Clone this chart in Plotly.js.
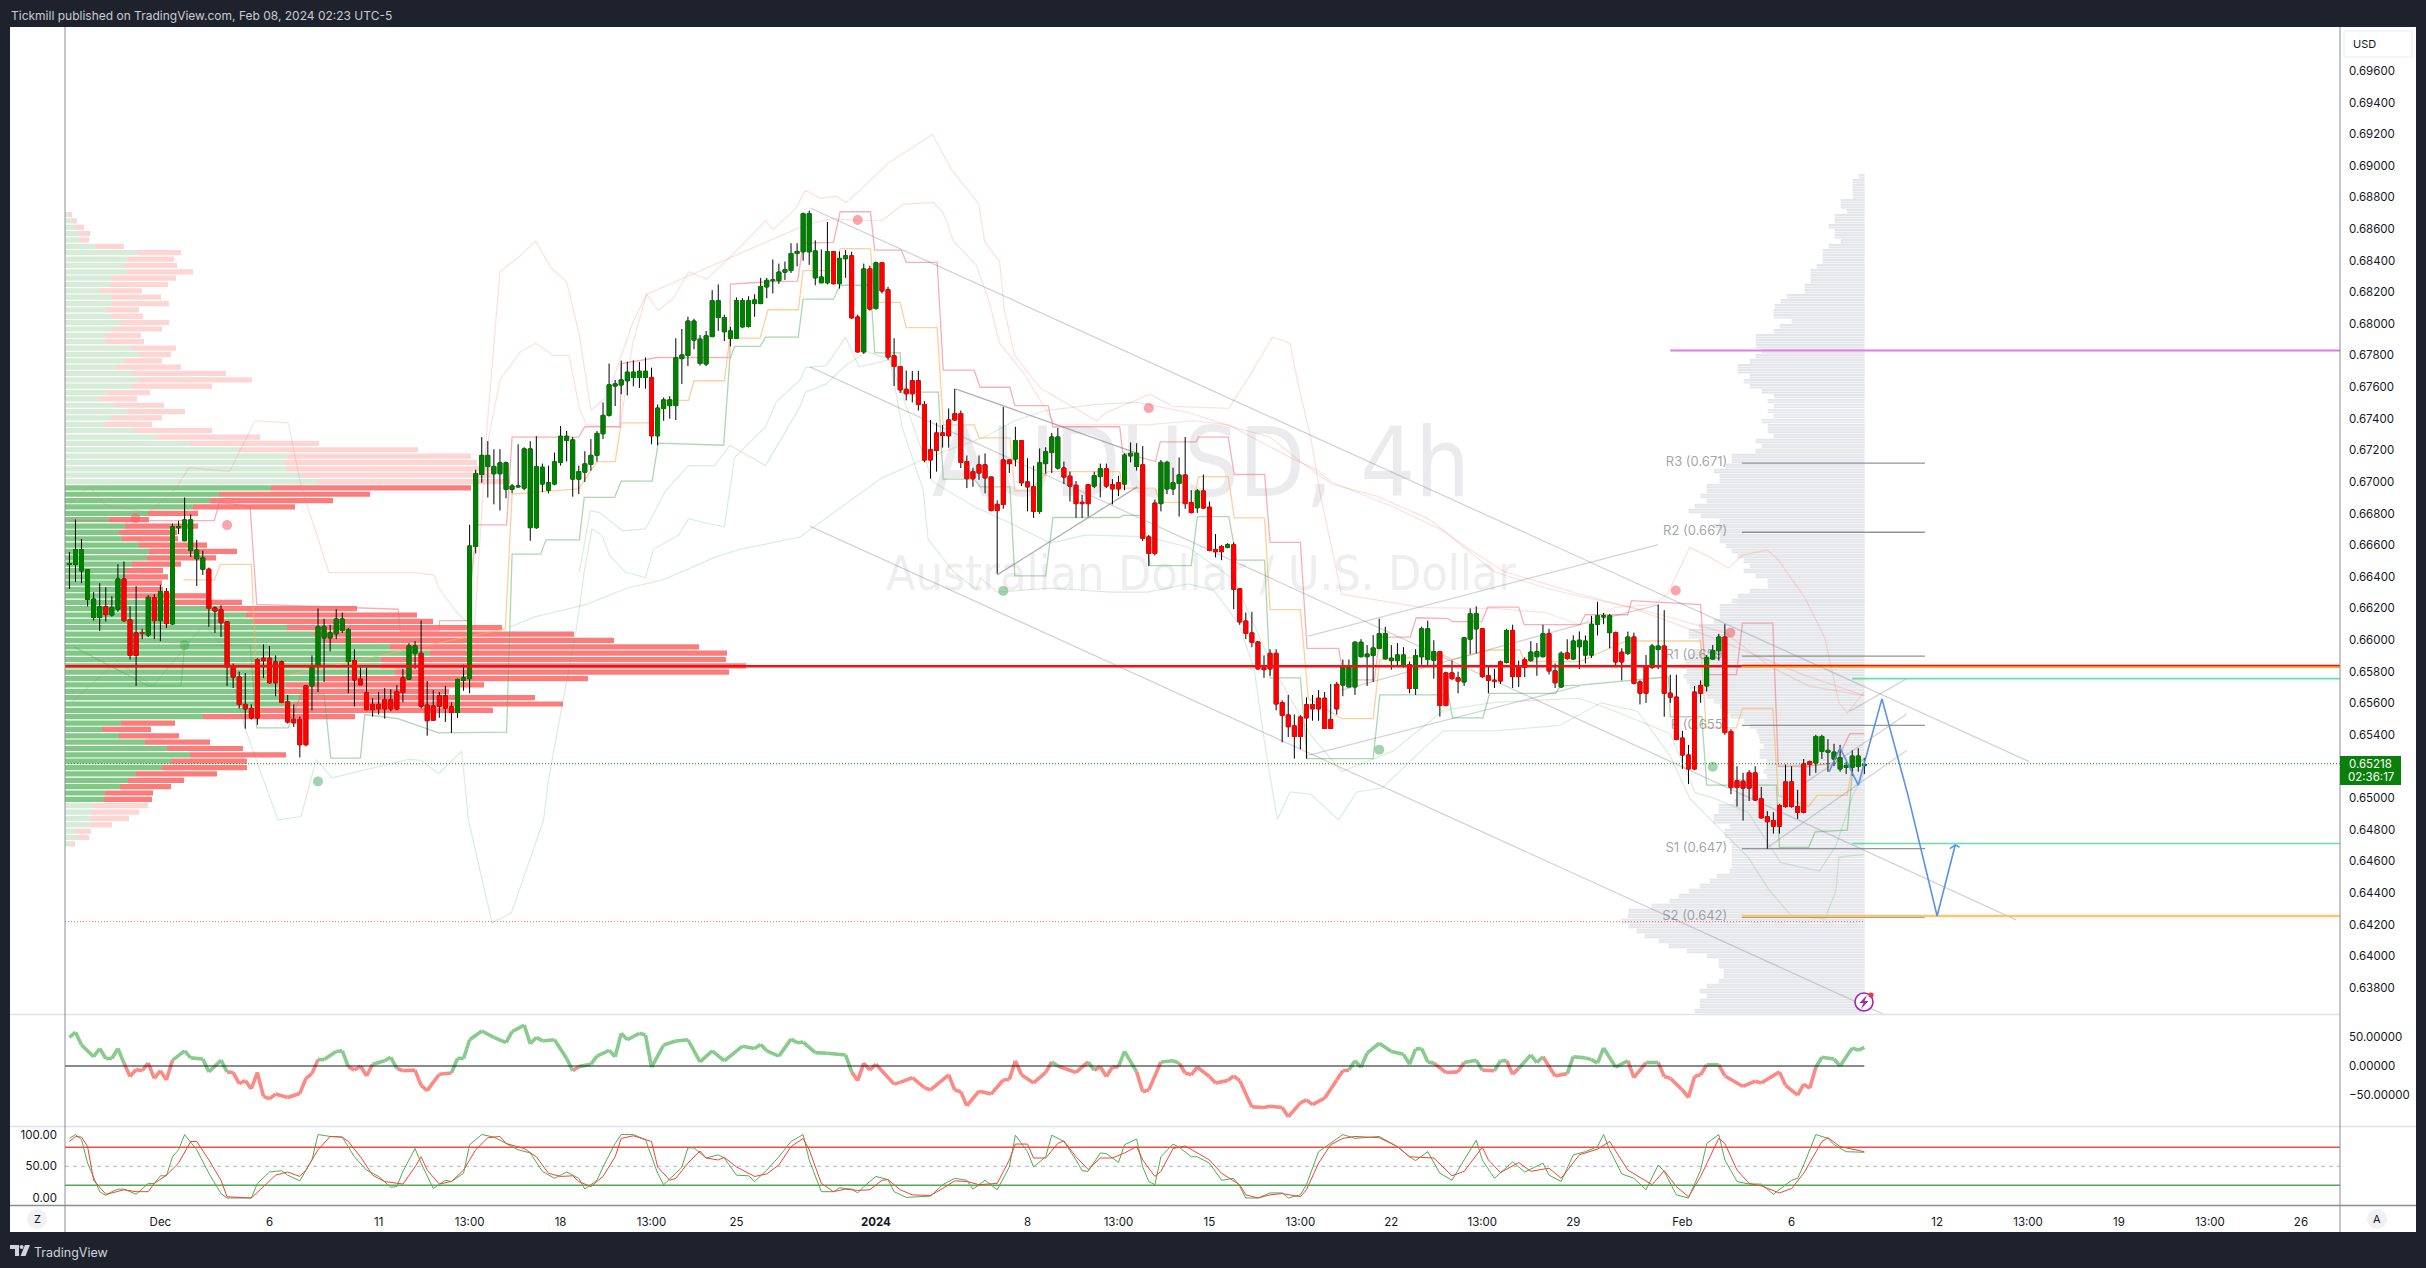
<!DOCTYPE html>
<html><head><meta charset="utf-8">
<script src="https://cdn.plot.ly/plotly-3.0.1.min.js"></script>
<style>html,body{margin:0;padding:0;background:#1e222d}#c{width:2426px;height:1268px}</style>
</head><body><div id="c"></div>
<script>
// OHLC, price x 100000
const open_=[66479,66479,66437,66257,66143,66143,66210,66159,66195,66386,
66128,66045,66048,66032,66267,66123,66306,66102,66711,66628,
66566,66515,66448,66448,66203,66192,66115,65831,65766,65593,
65568,65875,65885,65885,65862,65862,65609,65498,65498,65710,
65710,65834,66014,66014,66040,66061,65864,65870,65753,65666,
65593,65593,65622,65622,65673,65761,65753,65916,65916,65588,
65583,65648,65648,65578,65542,65746,65756,66592,67047,67098,
67052,67052,66954,66954,66969,66961,66711,66711,66987,66948,
66987,67124,67263,67018,67018,67062,67111,67168,67305,67421,
67607,67614,67640,67661,67661,67661,67661,67292,67465,67483,
67483,67780,67800,67898,67749,67746,67919,68040,67950,67909,
67909,67981,67983,68128,68128,68234,68273,68273,68327,68337,
68445,68456,68456,68291,68260,68260,68456,68254,68412,68430,
68043,67823,68347,68097,68386,68216,67798,67730,67586,67640,
67640,67490,67204,67310,67310,67392,67431,67431,67129,67065,
67108,67108,67031,66858,67139,67139,67145,67261,67000,66969,
66814,67116,67186,67088,67088,67036,66979,66871,66982,66974,
67034,67083,66982,66995,66987,67165,67098,67108,66652,66866,
66863,66956,66956,66990,67044,66868,66837,66943,66840,66572,
66592,66587,66603,66324,66120,66045,65988,65826,65916,65916,
65604,65526,65457,65513,65591,65591,65632,65632,65498,65720,
65715,65704,65704,65895,65895,65903,65947,65882,65870,65870,
65834,65844,65694,65895,65877,65872,65926,65792,65792,65761,
65735,66006,66071,66071,65774,65746,65862,65859,66061,65839,
65875,65870,65895,65895,66040,65805,65704,65918,65880,65958,
65905,65905,66100,66146,66047,66047,65923,65915,66019,65735,
65834,65827,65940,65962,65664,65639,65380,65273,65671,65713,
65710,65880,65933,66019,65422,65110,65107,65160,65160,64996,
64883,64858,64954,65103,65103,64947,65217,65231,65223,65295,
65291,65248,65185,65195,65195,65202,65206];
const close_=[66484,66572,66572,66445,66259,66210,66161,66205,66386,66123,
65903,65903,66043,66270,66123,66306,66104,66716,66716,66760,
66760,66569,66520,66200,66184,66110,65831,65766,65593,65565,
65508,65508,65870,65730,65730,65606,65482,65477,65338,65338,
65834,66084,66084,66045,66133,66133,66066,65748,65717,65560,
65560,65565,65565,65565,65565,65668,65963,65963,65581,65490,
65493,65581,65570,65542,65751,65761,66595,67052,67168,67168,
67098,67121,67121,66974,66974,67209,67209,67096,67093,66995,
67127,67289,67289,67266,67065,67114,67168,67307,67421,67614,
67620,67645,67694,67694,67700,67700,67292,67467,67519,67519,
67785,67803,68017,68017,67903,67924,68146,68146,68040,67955,
68146,68146,68146,68151,68236,68275,68278,68327,68342,68445,
68458,68696,68696,68461,68296,68456,68254,68414,68430,68038,
67823,68347,68094,68386,68208,67790,67730,67583,67558,67558,
67490,67139,67139,67199,67294,67292,67392,67124,67021,67021,
67057,67026,66819,66819,66858,67116,67261,66995,66969,66814,
67121,67191,67284,67284,67031,66974,66863,66863,66863,67039,
67083,66974,66956,66956,67170,67181,67181,66644,66548,66548,
67124,67124,66995,67044,66863,66806,66943,66835,66567,66559,
66559,66603,66321,66115,66043,65986,65818,65813,65818,65596,
65524,65452,65390,65390,65508,65565,65565,65441,65441,65565,
65834,65834,65986,65986,65911,65950,66040,66040,65885,65906,
65906,65694,65901,66071,66071,65926,65586,65586,65756,65741,
66014,66166,66166,65769,65746,65741,65741,66061,65769,65769,
65828,65924,65926,66040,65805,65730,65916,65883,65994,65999,
65994,66100,66153,66153,66153,65862,65862,66019,65727,65664,
65664,65962,65962,65664,65639,65372,65273,65185,65185,65664,
65887,65933,66019,65415,65067,65067,65064,65064,64989,64876,
64851,64823,64823,64947,64947,64911,64911,65213,65390,65390,
65302,65291,65255,65206,65266,65266,65213];
const high_=[66556,66763,66639,66445,66303,66360,66334,66277,66479,66497,
66213,66342,66071,66283,66290,66350,66329,66737,66755,66902,
66794,66634,66566,66458,66213,66221,66117,65852,65800,65792,
65593,65885,65973,65962,65903,65870,65653,65593,65516,65715,
65903,66200,66135,66097,66195,66174,66076,65942,65826,65826,
65632,65671,65697,65689,65715,65818,65981,65993,66123,65741,
65683,65671,65710,65606,65756,65844,66729,67077,67284,67258,
67207,67207,67129,66987,67238,67219,67258,67289,67116,67103,
67186,67354,67323,67284,67103,67194,67271,67323,67503,67749,
67645,67767,67761,67769,67759,67787,67723,67490,67534,67542,
67909,67968,68045,68032,67929,67955,68213,68249,68058,67981,
68167,68162,68174,68187,68291,68291,68407,68381,68394,68510,
68510,68704,68716,68528,68471,68644,68458,68458,68466,68456,
68058,68381,68368,68394,68386,68234,67909,67733,67705,67702,
67702,67511,67392,67374,67361,67465,67589,67452,67168,67090,
67168,67181,67034,66884,67475,67142,67349,67263,67150,67103,
67212,67219,67310,67341,67129,67065,67005,66917,66987,67065,
67116,67116,67018,67039,67181,67250,67245,67227,66665,66889,
67139,67134,67090,67155,67284,66948,66954,67047,66876,66670,
66600,66613,66618,66329,66174,66179,65993,65903,65942,65942,
65619,65653,65529,65524,65637,65653,65684,65671,65722,65735,
65877,65877,65993,66006,65968,66032,66135,66084,65968,65981,
65955,65864,65942,66084,66123,65999,65929,65800,65870,65800,
66019,66200,66213,66076,65839,65818,65870,66071,66097,65870,
65890,65993,65981,66097,66071,65852,65929,66005,66030,66054,
66029,66153,66242,66171,66164,66054,65948,66054,66047,65745,
65905,65976,66224,66189,65781,65781,65426,65337,65710,65745,
65905,65969,66040,66100,65436,65202,65160,65177,65202,65071,
64918,64911,64964,65213,65202,65053,65248,65238,65401,65401,
65373,65344,65337,65231,65302,65316,65255];
const low_=[66324,66368,66360,66213,66123,66058,66117,66148,66179,66115,
65877,65710,66006,66019,66006,65993,66076,66097,66670,66626,
66525,66342,66412,66084,66045,66019,65710,65697,65568,65439,
65498,65464,65761,65722,65645,65601,65472,65451,65258,65328,
65555,65671,65735,65929,66006,66045,65663,65581,65715,65555,
65516,65529,65503,65550,65555,65606,65748,65818,65568,65395,
65490,65508,65482,65413,65508,65679,65663,66548,66995,66902,
66858,66819,66897,66928,66961,66948,66628,66703,66936,66928,
66979,67103,67129,66907,66923,67000,67072,67129,67271,67413,
67480,67555,67547,67604,67594,67589,67238,67232,67387,67400,
67392,67620,67733,67839,67736,67733,67916,67955,67891,67857,
67903,67976,67976,68045,68125,68162,68192,68252,68278,68322,
68363,68399,68373,68244,68257,68249,68249,68223,68291,68032,
67818,67810,68084,68089,68192,67774,67607,67563,67516,67503,
67452,67124,67021,67065,67217,67217,67387,67088,66961,66969,
67013,66928,66814,66419,66830,67057,67098,66974,66814,66773,
66799,67052,67057,67078,66987,66876,66773,66773,66781,66961,
66902,66961,66858,66910,66948,67124,67072,66626,66468,66535,
66814,66923,66917,66781,66830,66801,66804,66830,66561,66523,
66505,66580,66195,66097,66006,65955,65813,65761,65774,65555,
65353,65387,65250,65309,65250,65490,65490,65439,65439,65529,
65645,65702,65653,65890,65710,65735,65942,65877,65813,65839,
65826,65663,65653,65844,65839,65756,65516,65581,65748,65663,
65710,65911,65916,65761,65663,65697,65722,65852,65697,65704,
65766,65864,65774,65890,65782,65697,65697,65875,65875,65816,
65852,65887,66029,66100,65948,65841,65745,65905,65720,65593,
65603,65816,65816,65515,65603,65365,65185,65089,65177,65603,
65674,65877,65870,65401,65025,64947,64858,64982,64982,64869,
64680,64776,64776,64940,64940,64869,64904,65142,65160,65248,
65167,65202,65167,65153,65142,65167,65153];

// Left volume profile: buy / total volume per row, top row first
const leftBuy=[3,7,9,14,15,30,73,63,59,62,47,45,34,47,47,41,47,56,48,40,40,67,74,60,51,67,74,66,41,33,50,62,46,39,69,91,125,173,222,219,221,237,253,
206,154,145,128,83,44,60,54,57,74,84,82,67,61,60,61,62,62,88,154,181,188,222,249,260,325,365,316,316,330,260,221,213,234,228,196,138,56,37,54,80,102,125,106,97,71,63,55,40,39,
28,26,25,25,10,14,5];
const leftTotal=[7,12,19,25,24,59,116,109,112,128,111,103,77,96,104,74,78,104,97,76,79,111,106,97,116,161,187,147,85,72,99,120,97,87,147,195,254,353,406,412,429,429,445,
406,305,268,230,133,84,133,112,113,142,172,151,116,98,103,97,98,141,177,292,352,368,437,509,549,634,662,661,681,664,523,419,384,470,498,428,290,110,86,114,145,178,221,182,182,152,119,106,88,87,
83,74,64,47,26,24,10];
// Right session profile
const rightUpper=[6,12,12,12,12,24,24,18,30,30,36,30,30,24,36,42,42,42,48,54,54,54,60,60,78,84,90,91,91,73,85,91,109,109,109,103,109,115,127,127,115,121,115,103,91,97,91,97,91,103,97,97,91,109,103,109,133,133,139,151,145,145,158,158,164,158,170,176,164,145,151,145,145,145,139,133,127,121,115,121,109,97,97,115,127,133];
const rightLower=[128,145,145,145,151,166,176,176,166,165,171,175,180,185,178,181,178,175,168,158,151,145,138,135,121,115,108,106,105,101,105,105,98,98,101,98,128,126,126,128,131,146,146,151,151,135,140,140,135,133,133,133,133,133,135,148,155,165,176,186,195,213,236,237,243,236,228,220,206,196,178,158,146,146,141,141,146,158,165,158,165,165,170];

// Step channel
const chanUpper=[[0,66755],[23.9,66755],[24.7,66871],[29.8,66845],[30.9,66226],[54.2,66195],[54.6,66058],[61,66058],[61,66123],[65.6,66123],[67.2,66729],[72.1,66729],[73,67284],[84,67284],[85,67349],[90.8,67349],[91,67749],[97,67787],[108.9,67787],[109,68252],[114.8,68265],[120.1,68270],[121,68510],[126,68515],[127.1,68709],[132.1,68709],[132.8,68466],[137.2,68466],[138,68389],[143.1,68389],[144.1,67707],[149.2,67707],[150.2,67599],[155.1,67599],[155.9,67483],[161.4,67483],[162.2,67349],[173.2,67349],[173.7,67186],[179.1,67129],[179.9,67253],[185.8,67253],[186.2,67284],[191.1,67284],[192.1,67047],[197.1,67047],[198,66618],[203,66618],[204.1,65947],[209.3,65947],[210.2,65748],[215.2,65748],[216.1,66019],[221.1,66019],[222.1,66141],[227.3,66136],[228.1,66117],[232.9,66117],[233.9,66208],[239,66208],[239.9,66097],[249.1,66097],[250,66160],[257,66160],[257.6,66249],[269,66224],[269.8,65781],[274.9,65781],[275.9,66107],[280.9,66107],[281.8,65202],[286.8,65202],[291.3,65224],[293.6,65408],[296,65408]];
const chanMid=[[18.8,66381],[23.9,66381],[24.9,66479],[30,66479],[30.9,65735],[71.9,66071],[73,66923],[84,66956],[87,67129],[90,67129],[91,67374],[97,67374],[97.9,67516],[102.1,67516],[103,67640],[108,67640],[108.9,67909],[113.9,67909],[115.2,68089],[120.2,68089],[121,68337],[126,68337],[127.1,68476],[132.1,68476],[132.8,68136],[137,68136],[138,67976],[143.1,67976],[144.1,67361],[149.2,67361],[150,67279],[155.1,67279],[155.9,66943],[158.4,66943],[161.4,67065],[173.2,67065],[173.7,66961],[179,66961],[179.9,66871],[185.4,66871],[186.2,67034],[191.1,67034],[192.1,66773],[197.1,66773],[198,66192],[203,66192],[204.3,65632],[209.8,65503],[215,65503],[216.1,65877],[226.6,65903],[228.1,65877],[234.2,65937],[239.2,65937],[240,65864],[249.1,65864],[256.7,65994],[269,65994],[269.9,65444],[274.9,65444],[275.9,65568],[280.9,65568],[281.8,65018],[286.8,64947],[288.2,65018],[293.2,65018],[294.1,65231],[296,65248]];
const chanLower=[[0.8,65955],[13,65710],[18.4,65710],[19,65968],[29.8,65968],[30.9,65444],[36.1,65444],[38.2,65658],[42,65658],[43.1,65253],[48,65253],[48.7,65529],[54.2,65503],[60.9,65413],[72.1,65418],[73,66543],[77.7,66543],[78.6,66634],[84.1,66634],[84.9,66902],[89.9,66902],[91,67005],[96.1,67005],[97.1,67245],[107.9,67232],[108.9,67774],[109.7,67857],[113.9,67857],[114.8,67916],[120.2,67916],[121,68156],[126,68156],[127.1,68244],[132.1,68244],[132.8,67816],[137,67816],[137.2,67568],[143.3,67568],[144.1,67018],[149.2,67018],[150.2,66969],[155.1,66969],[155.9,66406],[161,66406],[162.2,66775],[173.2,66775],[173.7,66788],[177.1,66788],[178.2,66471],[185,66471],[186,66781],[191.2,66781],[192.5,66505],[197.1,66505],[198,65761],[203,65761],[204.1,65250],[215,65250],[216.1,65653],[227.4,65653],[228.1,65508],[233.1,65508],[234.2,65663],[245.1,65663],[245.9,65710],[249.1,65715],[263.7,65768],[264,65515],[269.2,65515],[270,65083],[281.5,65083],[282,64688],[286.8,64688],[287.9,64787],[293.2,64798],[294.1,65195],[296,65248]];
// Envelope bands
const bandUpperOuter=[[0,66858],[3.3,66974],[5.8,66858],[13,66806],[17.6,66961],[19.7,67090],[26.4,67065],[30.6,67387],[36.1,67374],[38.2,66974],[42.8,66427],[56.7,66427],[60.1,66412],[60.9,66329],[63.9,66174],[66.8,66071],[68.9,67361],[71,68329],[74.4,68433],[76.9,68523],[79.4,68355],[82,68265],[84.1,67929],[86,67452],[88.7,67542],[92.9,68007],[95.2,68187],[97.1,68084],[99.6,68162],[102.1,68329],[105.1,68283],[108.9,68420],[114.8,68652],[116,68595],[119.8,68729],[121.4,68845],[123.9,68794],[126.5,68807],[128.1,68768],[130.7,68858],[135.2,69021],[142.3,69197],[145.5,68973],[150,68755],[150.9,68523],[153.4,68394],[154.2,68084],[155.9,67800],[160.1,67594],[165.2,67478],[169.4,67387],[171,67439],[178.2,67555],[182,67478],[191.2,67465],[194.6,67671],[198.4,67916],[201.3,67878],[202.6,67620],[204.7,67284],[206.4,66897],[209.8,66290],[215.6,66252],[223.2,66205],[235,66200],[243.4,66174],[249.1,66097],[254.9,66207],[261.3,66224],[263.6,66295],[267.2,66586],[270.4,66526],[273.6,66455],[275.9,66537],[280,66569],[281.8,66508],[286.3,66260],[289.5,66011],[291.8,65603],[293.2,65539],[296,65674]];
const bandUpperInner=[[68,67052],[71,67645],[74.4,67826],[76.9,67878],[79.8,67800],[82.4,67800],[84.1,67465],[85.3,67361],[90.8,67349],[92.9,67878],[95.2,68187],[121.4,68626],[125.6,68665],[130.7,68652],[134,68652],[137.4,68755],[142.4,68768],[144.1,68704],[145.8,68523],[149.6,68368],[151.7,68136],[153.4,67878],[157.2,67697],[160.1,67516],[162.6,67361],[177.8,67361],[185.4,67387],[191.2,67361],[201.3,67155],[205.6,67078],[208.1,67000],[218.2,66845],[226.6,66690],[235,66432],[243.4,66329],[249.1,66277],[259.5,66190],[273,66047],[280.4,65834],[286.8,65710],[296,65649]];
const slowBelow=[[72.7,66084],[76.9,66148],[85.3,66226],[92,66329],[97.9,66381],[106.4,66523],[110.6,66574],[120.5,66652],[125.6,66794],[134,67026],[141.6,67155],[150.9,67284],[155.9,67387],[161,67452],[169.4,67490],[176.1,67503]];
const slowAbove=[[176.1,67503],[184.5,67439],[192.9,67336],[198,67284],[203,67129],[208.1,66987],[215.6,66910],[224,66768],[230.8,66574],[236.7,66432],[243.4,66355],[249.1,66290],[258,66200],[270,66030],[286,65780],[296,65649]];
const bandLowerOuter=[[0.4,65606],[7.8,65865],[13.8,65710],[22.2,66097],[25.6,65942],[29,65439],[31.5,65168],[34.4,64863],[38.2,64884],[40.7,65245],[43.3,65129],[55.9,65245],[58,65240],[60.9,65155],[64.7,65297],[65.8,64863],[69.7,64212],[72.9,64275],[78.2,64863],[79,65116],[81.1,65555],[83.6,66071],[84.9,66432],[86.2,66703],[87.8,66664],[89.1,66535],[91.6,66432],[95,66394],[96.3,66574],[100.5,66664],[102.1,66768],[104.7,66742],[108,66716],[109.7,67155],[114.8,67349],[116.5,67503],[120.5,67645],[121.4,67723],[124.8,67736],[128,67916],[130.2,67728],[135.3,67774],[137.4,67336],[140.8,66949],[141.6,66639],[145.8,66432],[149.6,66316],[150.2,66394],[153,66303],[161.8,66329],[171.9,66303],[177.8,66303],[184.5,66355],[188.7,66316],[192.9,66097],[195.4,65813],[197.1,65348],[199.2,64863],[201.3,65039],[204.7,65026],[209.3,64863],[212.3,65039],[216.5,65064],[223.2,65310],[226.6,65426],[235,65426],[243.4,65452],[245.8,65461],[252.6,65603],[258.6,65550],[264,65266],[267.2,64999],[276.8,64627],[280.4,64414],[284,64255],[289.5,64237],[291.3,64414],[291.8,64627],[296,64645]];
const bandLowerInner=[[84.1,66432],[85.9,66819],[87.4,66806],[91.2,66691],[95,66703],[98.4,66949],[102.1,67103],[106.4,67103],[108.9,67232],[114.8,67103],[120.5,67478],[121.4,67568],[124.8,67620],[128,67736],[131.5,67826],[135.3,67774],[142.4,67000],[149.2,66845],[155,66742],[161.8,66613],[167.7,66665],[177.8,66652],[184.5,66587],[192.1,66381],[198,65864],[204.7,65400],[209.8,65168],[218.2,65297],[226.6,65555],[235,65606],[249.1,65632],[254.9,65550],[264,65408],[268.1,65035],[271.3,64999],[276.8,64911],[282.2,64592],[288.6,64539],[291.3,64698],[294.1,65018],[296,65160]];
// Trend drawings [[i,p],[i,p]]
const trendLines=[
 [[122.1,68734],[323.2,65231]],[[122.1,67728],[321,64230]],[[122.1,66721],[299.1,63634]],
 [[204.3,66025],[262,66604]],[[209.8,65684],[249.1,66097],[262.2,66224]],[[204.3,65271],[249.1,65710]],
 [[280,64688],[303,65302]],[[285.9,65089],[303,65532]],[[293.6,65550],[303,65756]]];
const triangleLines=[[[146.1,67589],[176.1,67181]],[[153,66412],[176.1,66969]]];
const forecastPath=[[290.2,65167],[292,65319],[295,65082],[298.9,65628],[303.2,65018],[308,64255],[311,64705],[310.1,64681],[311,64705],[311.7,64690]];
const pivotDotsHigh=[[10.9,66770],[26,66727],[130,68657],[178,67467],[264.9,66313],[273.9,66047]];
const pivotDotsLow=[[19,65968],[41,65106],[154,66311],[216,65307],[271,65199]];
const pivotNames=["R3 (0.671)","R2 (0.667)","R1 (0.659)","P (0.655)","S1 (0.647)","S2 (0.642)"];
const pivotLevels=[67119,66682,65898,65461,64681,64247];
// CCI
const cciI=[0,1,2,4,5,6,7,8,9,10,11,12,13,14,15,16,17,19,20,22,23,25,26,27,28,29,30,31,32,33,34,36,38,39,40,41,42,44,45,46,47,48,49,50,52,53,54,55,57,58,59,61,63,64,65,66,68,70,72,73,75,76,77,78,80,82,83,84,86,87,89,90,91,92,94,95,96,98,100,102,104,106,108,111,113,114,115,117,119,120,121,123,125,128,129,130,131,132,133,136,137,139,141,142,145,146,147,148,150,152,154,155,156,157,159,161,162,163,166,168,169,170,171,172,173,174,176,177,178,180,182,183,184,185,186,188,189,191,192,193,195,197,198,200,201,203,204,205,207,209,210,211,212,213,214,216,218,220,221,222,223,224,225,227,229,230,232,233,235,236,237,238,239,241,242,243,245,247,248,250,251,252,253,255,257,258,260,262,263,264,266,267,268,269,270,272,273,276,278,279,282,283,285,286,287,288,289,291,292,294,295,296];
const cciV=[49,58,36,16,30,13,13,30,5,-18,-6,-8,5,-21,-8,-24,10,26,14,12,-10,10,-10,-11,-30,-25,-39,-11,-52,-56,-48,-54,-47,-21,-13,11,11,25,26,-1,-7,0,-17,3,9,15,-4,-8,-7,-33,-42,-14,-12,13,13,45,60,49,40,59,70,38,49,43,45,13,-8,-1,3,17,27,16,56,45,56,53,-2,36,43,45,7,26,9,34,30,37,26,17,46,40,41,23,22,19,-10,-25,5,-7,3,-31,-28,-20,-37,-41,-15,-41,-44,-68,-43,-48,-24,-23,9,-15,-29,-11,7,0,-11,7,-7,-1,-18,-2,-1,25,-10,-44,-41,7,9,5,-12,-15,-2,-18,-29,-25,-17,-25,-70,-71,-69,-71,-87,-63,-58,-66,-55,-24,-8,-7,9,-2,22,39,25,20,3,29,30,7,5,-11,-10,6,10,-7,-8,9,9,-14,-4,19,6,16,-17,-13,16,14,11,5,31,-2,9,-20,6,6,-18,-21,-41,-54,-18,-15,2,2,-17,-35,-26,-29,-10,-33,-50,-31,-38,-2,15,12,0,31,27,32];
// Stochastic
const stochKI=[0,1,2,3,5,6,7,8,9,11,13,14,15,16,17,18,19,21,23,25,26,30,31,33,35,36,38,40,41,43,45,47,49,51,53,54,55,57,58,60,62,63,65,66,68,70,72,74,76,78,80,82,84,85,87,88,90,91,93,95,97,98,100,101,102,103,105,107,108,110,112,113,115,117,119,121,122,124,126,127,129,130,131,133,135,136,138,142,144,146,148,149,151,153,155,156,158,159,161,162,164,166,167,168,170,171,173,174,176,177,178,179,180,182,183,185,186,188,190,192,193,194,196,198,200,201,203,204,206,208,210,212,216,219,221,222,224,226,228,230,232,233,235,238,240,243,244,246,248,250,252,253,254,256,258,260,262,263,265,267,269,270,272,273,275,277,279,281,284,285,286,288,290,291,293,296];
const stochKV=[94,100,92,55,10,4,10,14,14,6,23,23,35,35,65,76,100,76,39,7,0,0,23,41,43,36,27,60,100,97,96,65,44,34,17,18,42,78,55,15,28,26,39,84,100,96,86,76,71,42,31,41,31,14,28,49,86,100,100,92,39,21,39,49,79,79,63,68,63,36,35,26,44,65,89,100,60,10,10,16,14,8,18,34,29,10,1,3,21,31,28,14,28,13,49,99,73,49,65,99,89,60,43,42,71,70,56,84,93,49,26,21,65,85,80,65,65,55,28,31,18,0,0,8,8,0,5,21,73,86,100,94,97,81,65,59,73,39,28,60,91,60,31,57,41,55,36,26,68,73,81,100,76,38,31,13,52,42,5,0,44,86,100,60,26,22,22,6,28,31,52,100,94,84,73,72];
const stochDI=[0,1,2,3,4,6,7,9,11,13,14,16,18,20,21,23,25,26,30,32,34,36,38,39,41,43,45,46,48,50,52,55,57,58,59,61,63,65,67,69,71,72,75,77,79,81,83,84,86,88,90,91,93,96,97,99,100,102,104,105,107,108,110,113,115,117,119,121,122,124,126,128,130,132,134,135,137,139,142,144,146,148,150,153,155,156,158,159,161,163,164,166,168,170,172,174,176,177,179,180,182,184,186,188,190,193,194,196,198,200,203,204,206,208,210,212,216,219,221,223,225,228,230,233,234,236,239,241,244,246,249,252,254,257,261,263,265,267,269,272,273,275,277,279,282,284,286,289,290,292,296];
const stochDV=[89,97,96,81,28,6,8,13,10,10,23,36,55,89,89,60,28,2,0,18,36,41,34,44,76,97,96,89,65,36,26,22,49,65,44,22,26,44,76,95,97,86,78,65,39,34,35,26,18,34,65,94,98,89,49,28,31,55,74,63,60,64,49,34,38,52,81,94,76,23,10,14,12,13,28,29,13,5,4,15,27,26,21,23,60,85,85,63,63,86,90,65,45,63,63,71,81,60,34,42,78,82,71,60,39,21,5,0,5,7,2,13,55,84,94,97,95,81,65,64,63,35,42,80,60,40,56,42,47,31,68,77,89,44,21,43,18,2,34,94,86,44,23,19,8,15,39,89,95,81,73];
// Axes
const priceTicks=[0.638,0.64,0.642,0.644,0.646,0.648,0.65,0.652,0.654,0.656,0.658,0.66,0.662,0.664,0.666,0.668,0.67,0.672,0.674,0.676,0.678,0.68,0.682,0.684,0.686,0.688,0.69,0.692,0.694,0.696];
const timeTickPos=[15,33,51,66,81,96,110,133,158,173,188,203,218,233,248,266,284,308,323,338,353,368];
const timeTickText=["Dec","6","11","13:00","18","13:00","25","<b>2024</b>","8","13:00","15","13:00","22","13:00","29","Feb","6","12","13:00","19","13:00","26"];

const W=2426,H=1268,U=1e5;
const L=65,R=2340,STEP=6.064,I0=69.4;
const xRange=[(L-I0)/STEP,(R-I0)/STEP];
const fx=p=>p/W, fy=p=>1-p/H;
const FONT='Inter, "Liberation Sans", sans-serif';
const idx=Array.from({length:open_.length},(_,i)=>i);
const P=a=>a.map(v=>v/U);

function poly(knots,color,width,xa,extra){
  return Object.assign({type:'scatter',mode:'lines',x:knots.map(k=>k[0]),y:knots.map(k=>k[1]/U),
    line:Object.assign({color,width,shape:'linear'},extra||{}),xaxis:xa||'x',yaxis:'y',hoverinfo:'skip',cliponaxis:true},{});
}
const traces=[];
// left profile
const nL=leftBuy.length, rowTop=0.68691, rowStep=0.000402;
const rowsL=leftBuy.map((_,j)=>rowTop-j*rowStep);
const inVA=j=>j>=43&&j<=92;
const xL=xRange[0];
traces.push({type:'bar',orientation:'h',y:rowsL,x:leftBuy.map(v=>v/STEP),base:xL,width:0.00033,
  marker:{color:leftBuy.map((_,j)=>inVA(j)?'#81c887':'#d6ecd8'),line:{width:0}},hoverinfo:'skip',xaxis:'x',yaxis:'y'});
traces.push({type:'bar',orientation:'h',y:rowsL,x:leftTotal.map((v,j)=>(v-leftBuy[j])/STEP),base:leftBuy.map(v=>xL+v/STEP),width:0.00033,
  marker:{color:leftBuy.map((_,j)=>inVA(j)?'#fb7d7b':'#fdd5d3'),line:{width:0}},hoverinfo:'skip',xaxis:'x',yaxis:'y'});
// right profile : each value covers two thin rows
const rY=[],rX=[];
const push=(arr,top)=>arr.forEach((v,j)=>{for(let s=0;s<2;s++){rY.push(top-j*0.000316-s*0.000158);rX.push(-v/STEP);}});
push(rightUpper,0.68941); push(rightLower,0.66253);
traces.push({type:'bar',orientation:'h',y:rY,x:rX,base:296.05,width:0.000125,marker:{color:'#e4e5e9',line:{width:0}},hoverinfo:'skip',xaxis:'x',yaxis:'y'});
// watermark
traces.push({type:'scatter',mode:'text',x:[186.6],y:[0.67063],text:['AUDUSD, 4h'],textposition:'middle center',
  textfont:{family:'"DejaVu Sans Condensed","Liberation Sans Narrow",sans-serif',size:96,color:'rgba(120,123,134,0.15)'},hoverinfo:'skip',cliponaxis:false});
traces.push({type:'scatter',mode:'text',x:[186.6],y:[0.66392],text:['Australian Dollar / U.S. Dollar'],textposition:'middle center',
  textfont:{family:'"DejaVu Sans Condensed","Liberation Sans Narrow",sans-serif',size:48,color:'rgba(120,123,134,0.15)'},hoverinfo:'skip',cliponaxis:false});
// bands
[bandUpperOuter,bandUpperInner,slowAbove].forEach(k=>traces.push(poly(k,'rgba(245,120,120,0.24)',1.2)));
[bandLowerOuter,bandLowerInner,slowBelow].forEach(k=>traces.push(poly(k,'rgba(90,170,110,0.22)',1.2)));
traces.push(poly(chanUpper,'rgba(240,110,125,0.55)',1.3));
traces.push(poly(chanMid,'rgba(255,175,90,0.6)',1.3));
traces.push(poly(chanLower,'rgba(90,175,100,0.5)',1.3));
trendLines.forEach(k=>traces.push(poly(k,'rgba(120,123,134,0.33)',1.3)));
triangleLines.forEach(k=>traces.push(poly(k,'rgba(110,110,135,0.55)',1.3)));
traces.push({type:'scatter',mode:'markers',x:pivotDotsHigh.map(k=>k[0]),y:pivotDotsHigh.map(k=>k[1]/U),marker:{size:10,color:'rgba(247,90,100,0.55)'},hoverinfo:'skip'});
traces.push({type:'scatter',mode:'markers',x:pivotDotsLow.map(k=>k[0]),y:pivotDotsLow.map(k=>k[1]/U),marker:{size:10,color:'rgba(70,170,90,0.5)'},hoverinfo:'skip'});
// pivots
pivotLevels.forEach(v=>traces.push(poly([[275.8,v],[306,v]],'rgba(120,123,134,0.8)',1.3)));
traces.push({type:'scatter',mode:'text',x:pivotLevels.map(()=>273.4),y:P(pivotLevels),text:pivotNames,textposition:'middle left',
  textfont:{family:FONT,size:13,color:'rgba(120,123,134,0.7)'},hoverinfo:'skip'});
// dotted
traces.push(poly([[xRange[0],64219],[296,64219]],'rgba(242,90,100,0.9)',1,'x',{dash:'1px,2px'}));
// candles : wicks and outline, then bodies
traces.push({type:'candlestick',x:idx,open:P(open_),high:P(high_),low:P(low_),close:P(close_),whiskerwidth:0,xaxis:'x2',yaxis:'y',hoverinfo:'skip',
  increasing:{line:{color:'#000',width:1},fillcolor:'#008000'},decreasing:{line:{color:'#000',width:1},fillcolor:'#ff0000'}});
traces.push({type:'candlestick',x:idx,open:P(open_),close:P(close_),high:P(open_.map((o,i)=>Math.max(o,close_[i]))),low:P(open_.map((o,i)=>Math.min(o,close_[i]))),whiskerwidth:0,xaxis:'x2',yaxis:'y',hoverinfo:'skip',
  increasing:{line:{color:'#008000',width:1},fillcolor:'#008000'},decreasing:{line:{color:'#ff0000',width:1},fillcolor:'#ff0000'}});
// top layer
traces.push(poly([[xRange[0],65218],[xRange[1],65218]],'#088a08',1,'x3',{dash:'1px,2px'}));
traces.push(poly([[xRange[0],65834],[275.8,65834]],'#f50f0f',2.6,'x3'));
traces.push(poly([[275.8,65827],[xRange[1],65827]],'#ffb300',1.4,'x3'));
traces.push(poly([[275.8,65838],[xRange[1],65838]],'#f01010',1.6,'x3'));
traces.push(poly([[264,67832],[xRange[1],67832]],'#e37ae9',2,'x3'));
traces.push(poly([[294,65756],[xRange[1],65756]],'#66e0a8',1.6,'x3'));
traces.push(poly([[294,64713],[xRange[1],64713]],'#66e0a8',1.6,'x3'));
traces.push(poly([[275.8,64255],[xRange[1],64255]],'#ffc56e',2.6,'x3'));
traces.push(poly(forecastPath,'#5a90ec',1.6,'x3'));
// CCI, coloured by sign
const cg={x:[],y:[]},cr={x:[],y:[]};
for(let j=0;j<cciI.length-1;j++){const t=(cciV[j]+cciV[j+1])>=0?cg:cr;t.x.push(cciI[j],cciI[j+1],null);t.y.push(cciV[j],cciV[j+1],null);}
traces.push({type:'scatter',mode:'lines',x:cr.x,y:cr.y,line:{color:'#fb8a84',width:3.6},xaxis:'x',yaxis:'y2',hoverinfo:'skip'});
traces.push({type:'scatter',mode:'lines',x:cg.x,y:cg.y,line:{color:'#88cb8d',width:3.6},xaxis:'x',yaxis:'y2',hoverinfo:'skip'});
traces.push({type:'scatter',mode:'lines',x:[xRange[0],296],y:[0,0],line:{color:'#131722',width:1.1},xaxis:'x',yaxis:'y2',hoverinfo:'skip'});
// Stochastic
traces.push({type:'scatter',mode:'lines',x:xRange,y:[80,80],line:{color:'#ef4f45',width:1.5},xaxis:'x',yaxis:'y3',hoverinfo:'skip'});
traces.push({type:'scatter',mode:'lines',x:xRange,y:[20,20],line:{color:'#53a957',width:1.5},xaxis:'x',yaxis:'y3',hoverinfo:'skip'});
traces.push({type:'scatter',mode:'lines',x:xRange,y:[50,50],line:{color:'#b2b5be',width:1,dash:'4px,4px'},xaxis:'x',yaxis:'y3',hoverinfo:'skip'});
traces.push({type:'scatter',mode:'lines',x:stochKI,y:stochKV,line:{color:'#4caf50',width:1},xaxis:'x',yaxis:'y3',hoverinfo:'skip'});
traces.push({type:'scatter',mode:'lines',x:stochDI,y:stochDV,line:{color:'#f44336',width:1},xaxis:'x',yaxis:'y3',hoverinfo:'skip'});

const rect=(x0,y0,x1,y1,fill,layer,line)=>({type:'rect',xref:'paper',yref:'paper',x0:fx(x0),x1:fx(x1),y0:fy(y0),y1:fy(y1),fillcolor:fill,line:line||{width:0},layer:layer||'below'});
const seg=(x0,y0,x1,y1,color,w)=>({type:'line',xref:'paper',yref:'paper',x0:fx(x0),x1:fx(x1),y0:fy(y0),y1:fy(y1),line:{color,width:w},layer:'above'});
const circ=(cx,cy,r,fill,line,layer)=>({type:'circle',xref:'paper',yref:'paper',x0:fx(cx-r),x1:fx(cx+r),y0:fy(cy-r),y1:fy(cy+r),fillcolor:fill,line:line||{width:0},layer:layer||'above'});
const pth=(pts,fill)=>({type:'path',xref:'paper',yref:'paper',path:pts.map((p,i)=>(i?'L':'M')+fx(p[0])+','+fy(p[1])).join(' ')+' Z',fillcolor:fill,line:{width:0},layer:'above'});

const shapes=[
 rect(10,27,2416,1232,'#ffffff','below'),
 seg(10,1014.5,2340,1014.5,'#e0e3eb',1.6),
 seg(10,1126.5,2416,1126.5,'#e0e3eb',1.6),
 seg(10,1205.5,2416,1205.5,'#8a8d96',1.6),
 seg(65,27,65,1232,'#8a8d96',1),
 seg(2340,27,2340,1232,'#8a8d96',1),
 rect(2344,31,2412,57,'#ffffff','above',{color:'#f0f3fa',width:1.5}),
 rect(2340,756,2401,785,'#0a7f0a','above'),
 circ(37,1219,10,'#eff1f5'),
 circ(2377,1219,10,'#eff1f5'),
 // published-alert icon
 circ(1864,1002,9,'rgba(255,255,255,0.9)',{color:'#9c27b0',width:1.6}),
 pth([[1867,995],[1859.5,1003],[1863.5,1003],[1861,1009],[1868.5,1001],[1864.5,1001]],'#9c27b0'),
 circ(1871,995,2.6,'#f23645'),
 // TradingView logo
 pth([[10,1245],[19,1245],[19,1256],[15,1256],[15,1249],[10,1249]],'#d1d4dc'),
 circ(21.6,1247,2,'#d1d4dc'),
 pth([[25,1245],[30,1245],[25.5,1256],[20.5,1256]],'#d1d4dc')
];
const ann=(x,y,t,size,color,anchor,fam)=>({xref:'paper',yref:'paper',x:fx(x),y:fy(y),text:t,showarrow:false,font:{family:fam||FONT,size,color},xanchor:anchor||'center',yanchor:'middle',borderpad:0});
const annotations=[
 ann(10,15.5,'Tickmill published on TradingView.com, Feb 08, 2024 02:23 UTC-5',12,'#c9ccd3','left'),
 ann(33,1252,'TradingView',12.5,'#d1d4dc','left'),
 ann(2364,44,'USD',11,'#131722'),
 ann(2370.5,763.5,'0.65218',11.5,'#ffffff'),
 ann(2370.5,777,'02:36:17',11.5,'#ffffff'),
 ann(37,1219,'Z',11,'#131722'),
 ann(2377,1219,'A',11,'#131722')
];
const layout={
 width:W,height:H,margin:{l:0,r:0,t:0,b:0,pad:0},paper_bgcolor:'#1e222d',plot_bgcolor:'rgba(0,0,0,0)',
 showlegend:false,hovermode:false,barmode:'overlay',boxgap:0.36,boxgroupgap:0,dragmode:false,
 xaxis:{domain:[fx(L),fx(R)],range:xRange,anchor:'y3',showgrid:false,zeroline:false,showline:false,tickmode:'array',tickvals:timeTickPos,ticktext:timeTickText,
   ticks:'',ticklabelstandoff:8,tickfont:{family:FONT,size:11.5,color:'#131722'},rangeslider:{visible:false},fixedrange:true,automargin:false},
 xaxis2:{domain:[fx(L),fx(R)],range:xRange,overlaying:'x',anchor:'y',visible:false,rangeslider:{visible:false},showgrid:false,zeroline:false,fixedrange:true},
 xaxis3:{domain:[fx(L),fx(R)],range:xRange,overlaying:'x',anchor:'y',visible:false,showgrid:false,zeroline:false,fixedrange:true},
 yaxis:{domain:[fy(1014),fy(28)],range:[0.63635,0.69871],side:'right',anchor:'x',showgrid:false,zeroline:false,showline:false,tickmode:'array',tickvals:priceTicks,tickformat:'.5f',
   ticks:'',ticklabelstandoff:8,tickfont:{family:FONT,size:11.5,color:'#131722'},fixedrange:true,automargin:false},
 yaxis2:{domain:[fy(1126),fy(1015)],range:[-102.7,87.4],side:'right',anchor:'x',showgrid:false,zeroline:false,showline:false,tickmode:'array',tickvals:[-50,0,50],tickformat:'.5f',
   ticks:'',ticklabelstandoff:8,tickfont:{family:FONT,size:11.5,color:'#131722'},fixedrange:true,automargin:false},
 yaxis3:{domain:[fy(1205),fy(1127)],range:[-11,111.9],side:'left',anchor:'x',showgrid:false,zeroline:false,showline:false,tickmode:'array',tickvals:[0,50,100],tickformat:'.2f',
   ticks:'',ticklabelstandoff:7,tickfont:{family:FONT,size:11.5,color:'#131722'},fixedrange:true,automargin:false},
 shapes,annotations
};
Plotly.newPlot('c',traces,layout,{staticPlot:true,displayModeBar:false,responsive:false});
</script></body></html>
